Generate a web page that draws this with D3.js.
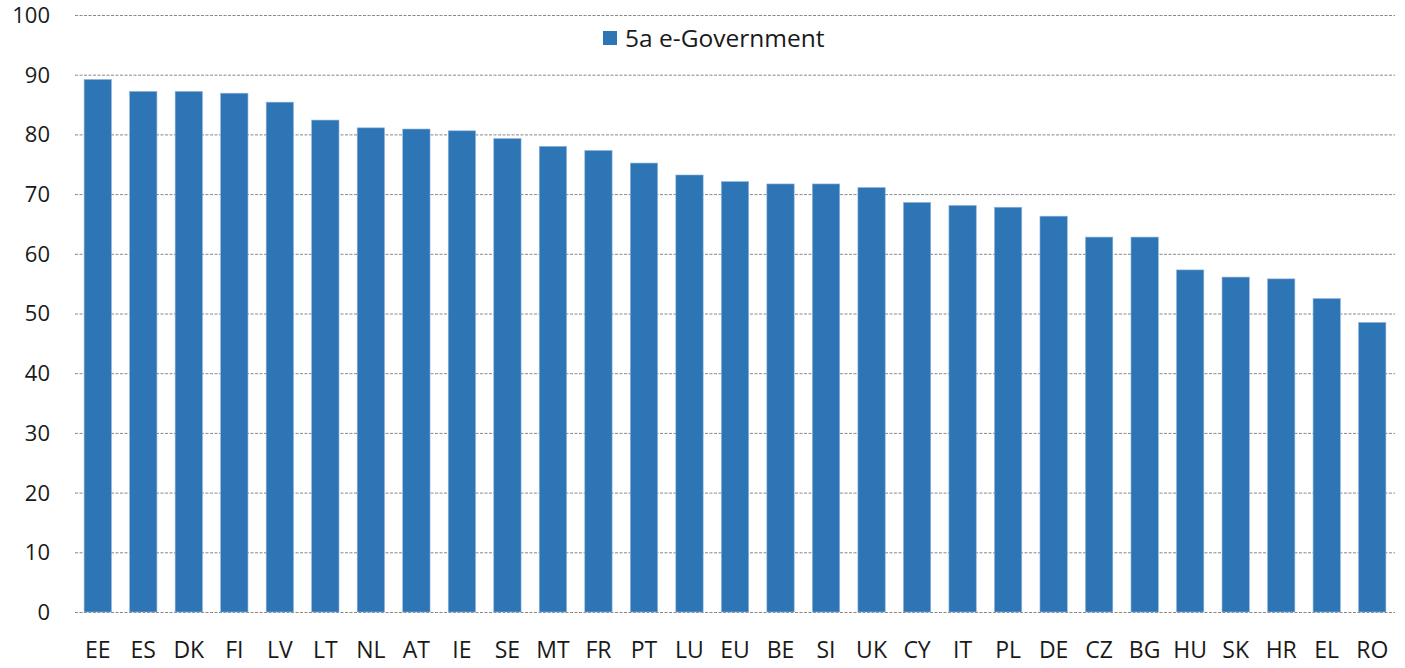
<!DOCTYPE html>
<html>
<head>
<meta charset="utf-8">
<script src="https://cdn.jsdelivr.net/npm/d3@7"></script>
<style>
  body { margin: 0; background: #fff; }
  text { font-family: "Open Sans", sans-serif; fill: #1a1a1a; }
</style>
</head>
<body>
<svg id="chart" width="1405" height="668"></svg>
<script>
// data
var countries = ['EE', 'ES', 'DK', 'FI', 'LV', 'LT', 'NL', 'AT', 'IE', 'SE', 'MT', 'FR', 'PT', 'LU', 'EU',
                 'BE', 'SI', 'UK', 'CY', 'IT', 'PL', 'DE', 'CZ', 'BG', 'HU', 'SK', 'HR', 'EL', 'RO'];
var eGov = [89.2, 87.2, 87.2, 86.9, 85.4, 82.4, 81.1, 80.9, 80.6, 79.3, 78.0, 77.3, 75.2, 73.2, 72.1,
            71.7, 71.7, 71.1, 68.6, 68.1, 67.8, 66.3, 62.8, 62.8, 57.3, 56.1, 55.8, 52.5, 48.5];
var yTicks = [0, 10, 20, 30, 40, 50, 60, 70, 80, 90, 100];
var seriesName = '5a e-Government';

var svg = d3.select('#chart');
// plot area (note: "top" is reserved on window, so use other names)
var plotLeft = 75, plotRight = 1395, plotTop = 15, plotBottom = 612;

var x = d3.scaleBand().domain(countries).range([plotLeft, plotRight]).paddingInner(0.4).paddingOuter(0.2);
var y = d3.scaleLinear().domain([0, 100]).range([plotBottom, plotTop]);

// dashed gridlines
svg.append('g').selectAll('line')
    .data(yTicks)
    .enter().append('line')
    .attr('x1', plotLeft).attr('x2', plotRight)
    .attr('y1', function (d) { return y(d) + 0.5; })
    .attr('y2', function (d) { return y(d) + 0.5; })
    .attr('stroke', '#888')
    .attr('stroke-width', 1)
    .attr('stroke-dasharray', '3,1.5');

// y tick labels
svg.append('g').selectAll('text')
    .data(yTicks)
    .enter().append('text')
    .attr('x', 50)
    .attr('y', function (d) { return y(d); })
    .attr('dy', '0.36em')
    .attr('text-anchor', 'end')
    .style('font-size', '22px')
    .text(function (d) { return d; });

// bars
svg.append('g').selectAll('rect')
    .data(eGov)
    .enter().append('rect')
    .attr('x', function (d, i) { return x(countries[i]); })
    .attr('width', x.bandwidth())
    .attr('y', function (d) { return y(d); })
    .attr('height', function (d) { return y(0) - y(d); })
    .attr('fill', '#2e75b6')
    .attr('stroke', '#8fb4dc')
    .attr('stroke-width', 0.6);

// category labels
svg.append('g').selectAll('text')
    .data(countries)
    .enter().append('text')
    .attr('x', function (d) { return x(d) + x.bandwidth() / 2; })
    .attr('y', 658)
    .attr('text-anchor', 'middle')
    .style('font-size', '23px')
    .text(function (d) { return d; });

// legend
var legend = svg.append('g');
legend.append('rect')
    .attr('x', 603).attr('y', 31)
    .attr('width', 14).attr('height', 14)
    .attr('fill', '#2e75b6');
legend.append('text')
    .attr('x', 625).attr('y', 38)
    .attr('dy', '0.36em')
    .style('font-size', '24.5px')
    .text(seriesName);
</script>
</body>
</html>
